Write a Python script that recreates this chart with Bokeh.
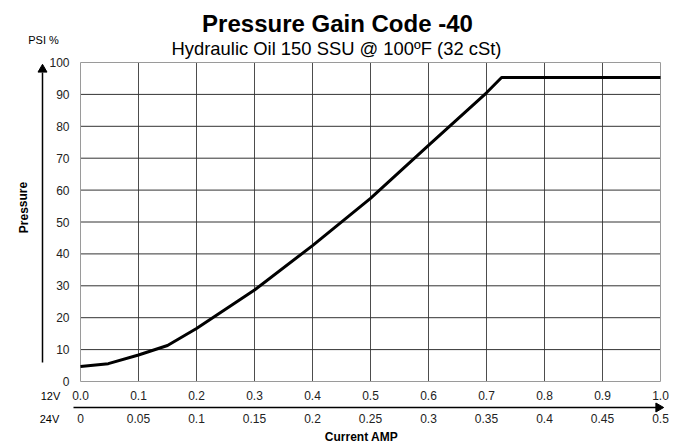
from bokeh.plotting import figure
from bokeh.models import Range1d, Label
from bokeh.core.properties import value
from bokeh.embed import file_html
from bokeh.resources import INLINE

# ---- data ----
current_12v = [0.0, 0.048, 0.1, 0.15, 0.2, 0.3, 0.4, 0.5, 0.6, 0.7, 0.726, 1.0]
pressure_pct = [4.7, 5.6, 8.3, 11.3, 16.6, 28.7, 42.6, 57.4, 74.0, 90.5, 95.3, 95.3]

ticks_12v = [0.0, 0.1, 0.2, 0.3, 0.4, 0.5, 0.6, 0.7, 0.8, 0.9, 1.0]
labels_12v = ["0.0", "0.1", "0.2", "0.3", "0.4", "0.5", "0.6", "0.7", "0.8", "0.9", "1.0"]
ticks_24v = [0.0, 0.05, 0.1, 0.15, 0.2, 0.25, 0.3, 0.35, 0.4, 0.45, 0.5]
labels_24v = ["0", "0.05", "0.1", "0.15", "0.2", "0.25", "0.3", "0.35", "0.4", "0.45", "0.5"]
ticks_pressure = [0, 10, 20, 30, 40, 50, 60, 70, 80, 90, 100]
labels_pressure = [str(t) for t in ticks_pressure]

title_text = "Pressure Gain Code -40"
subtitle_text = "Hydraulic Oil 150 SSU @ 100ºF (32 cSt)"

FONT = "Liberation Sans"

# ---- layout: the plotting frame covers the whole canvas so nothing is clipped ----
W, H = 677, 442
FL, FR, FT, FB = 80, 660, 62, 381          # chart area edges in page pixels
XMAX_12V = 1.0                               # full-scale current, 12V coil
XMAX_24V = 0.5                               # full-scale current, 24V coil
YMAX = 100.0
kx = (FR - FL) / XMAX_12V                    # px per amp
ky = (FB - FT) / YMAX                        # px per %

x_range = Range1d(-FL / kx, (W - FL) / kx)
y_range = Range1d(-(H - FB) / ky, FB / ky)

p = figure(width=W, height=H, output_backend="svg", toolbar_location=None,
           x_range=x_range, y_range=y_range,
           min_border=0, min_border_left=0, min_border_right=0,
           min_border_top=0, min_border_bottom=0,
           x_axis_location=None, y_axis_location=None)
p.grid.visible = False
p.outline_line_color = None
p.background_fill_color = "white"
p.border_fill_color = "white"

def X(px):
    return (px - FL) / kx

def Y(py):
    return (FB - py) / ky

scale_24v = XMAX_12V / XMAX_24V   # secondary current scale mapped onto the chart width

# ---- grid ----
inner_x = ticks_12v[1:-1]
inner_y = ticks_pressure[1:-1]
p.segment(x0=inner_x, y0=[0] * len(inner_x), x1=inner_x, y1=[YMAX] * len(inner_x),
          line_color="#4d4d4d", line_width=1)
p.segment(x0=[0] * len(inner_y), y0=inner_y, x1=[XMAX_12V] * len(inner_y), y1=inner_y,
          line_color="#333333", line_width=1)
# chart border
p.segment(x0=[0, 0, 0, XMAX_12V], y0=[0, YMAX, 0, 0],
          x1=[XMAX_12V, XMAX_12V, 0, XMAX_12V], y1=[0, YMAX, YMAX, YMAX],
          line_color="#9a9a9a", line_width=1)

# ---- curve ----
p.line(current_12v, pressure_pct, line_color="black", line_width=3, line_join="round")

# ---- tick labels ----
p.text(x=[X(69)] * len(ticks_pressure), y=ticks_pressure, text=labels_pressure,
       text_font=value(FONT), text_font_size=value("12px"), text_color="#222222",
       text_align="right", text_baseline="middle")
p.text(x=ticks_12v, y=[Y(395)] * len(ticks_12v), text=labels_12v,
       text_font=value(FONT), text_font_size=value("12px"), text_color="#222222",
       text_align="center", text_baseline="middle")
p.text(x=[t * scale_24v for t in ticks_24v], y=[Y(418)] * len(ticks_24v), text=labels_24v,
       text_font=value(FONT), text_font_size=value("12px"), text_color="#222222",
       text_align="center", text_baseline="middle")

# ---- arrows ----
p.segment(x0=[X(73), X(42)], y0=[Y(407), Y(362)], x1=[X(656), X(42)], y1=[Y(407), Y(72)],
          line_color="black", line_width=1.5)
p.scatter(x=[X(658), X(42)], y=[Y(407), Y(69)], marker="triangle", size=9,
          angle=[-1.5708, 0.0], fill_color="black", line_color="black")

# ---- texts ----
def lab(text, px, py, size, bold=False, angle=0.0, align="center"):
    p.add_layout(Label(x=X(px), y=Y(py), text=text, text_font=FONT,
                       text_font_size=size, text_font_style="bold" if bold else "normal",
                       text_align=align, text_baseline="middle", angle=angle,
                       text_color="black"))

lab(title_text, 337, 23, "24px", bold=True)
lab(subtitle_text, 336, 48, "18.4px")
lab("PSI %", 43, 39, "11px")
lab("Pressure", 23, 207, "12px", bold=True, angle=1.5708)
lab("12V", 50, 395, "11px")
lab("24V", 49, 418, "11px")
lab("Current AMP", 361, 436, "12px", bold=True)

open("out.html", "w").write(file_html(p, INLINE))
